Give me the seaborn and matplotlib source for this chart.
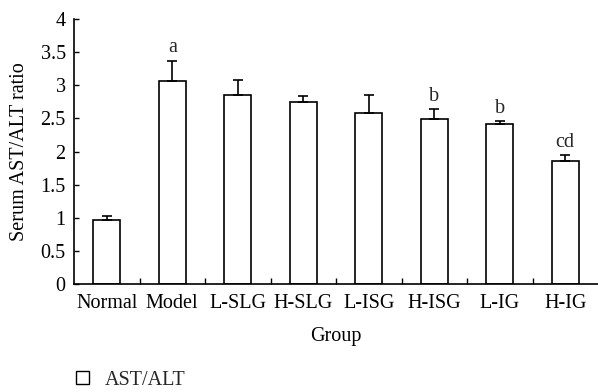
import matplotlib
matplotlib.use("Agg")
import matplotlib.pyplot as plt
import seaborn as sns
import pandas as pd
import numpy as np
from matplotlib.patches import Patch

groups = ["Normal", "Model", "L-SLG", "H-SLG", "L-ISG", "H-ISG", "L-IG", "H-IG"]
ratio = [0.97, 3.06, 2.86, 2.74, 2.58, 2.49, 2.42, 1.86]
err = [0.06, 0.31, 0.22, 0.10, 0.28, 0.15, 0.04, 0.09]
sig_labels = ["", "a", "", "", "", "b", "b", "cd"]
yticks = [0, 0.5, 1, 1.5, 2, 2.5, 3, 3.5, 4]
ytick_labels = ["0", "0.5", "1", "1.5", "2", "2.5", "3", "3.5", "4"]

sns.set_theme(style="white")
plt.rcParams['font.family'] = ['Liberation Serif', 'DejaVu Serif']

FS = 14.5
df = pd.DataFrame({"Group": groups, "Ratio": ratio})

fig = plt.figure(figsize=(5.98, 3.92), dpi=100)
ax = fig.add_axes([74/598, 1-284/392, 524/598, 265/392])

sns.barplot(data=df, x="Group", y="Ratio", ax=ax, color="white",
            edgecolor="black", linewidth=1.2, width=0.41, errorbar=None)
xs = np.arange(len(groups))
ax.errorbar(xs, ratio, yerr=[np.zeros(len(err)), err], fmt="none",
            ecolor="black", elinewidth=1.2, capsize=3.5, capthick=1.2)
for x, v, e, s in zip(xs, ratio, err, sig_labels):
    if s:
        ax.text(x, v + e + 0.05, s, ha="center", va="bottom", fontsize=FS)

ax.set_xlim(-0.5, len(groups) - 0.5)
ax.set_ylim(0, 4)
ax.set_yticks(yticks)
ax.set_yticklabels(ytick_labels)
ax.set_xticks(xs)
ax.set_xticklabels(groups)
ax.set_xticks(np.arange(0.5, len(groups) - 0.5, 1), minor=True)
ax.tick_params(axis="x", which="major", length=0, labelsize=FS, pad=7.5, colors="black")
ax.tick_params(axis="x", which="minor", direction="in", length=4, width=1, bottom=True, color="black")
ax.tick_params(axis="y", direction="in", length=3.5, width=1, left=True, labelsize=FS, pad=6, colors="black")
for side in ["top", "right"]:
    ax.spines[side].set_visible(False)
for side in ["left", "bottom"]:
    ax.spines[side].set_color("black")
    ax.spines[side].set_linewidth(1.2)
ax.set_xlabel("Group", fontsize=FS, labelpad=10, color="black")
ax.set_ylabel("Serum AST/ALT ratio", fontsize=FS, labelpad=8, color="black")

handle = Patch(facecolor="white", edgecolor="black", linewidth=1)
fig.legend([handle], ["AST/ALT"], loc="lower left", bbox_to_anchor=(58/598, -0.04),
           frameon=False, fontsize=FS, handlelength=0.65, handleheight=0.65, handletextpad=0.75)

fig.savefig("out.png", dpi=100)
